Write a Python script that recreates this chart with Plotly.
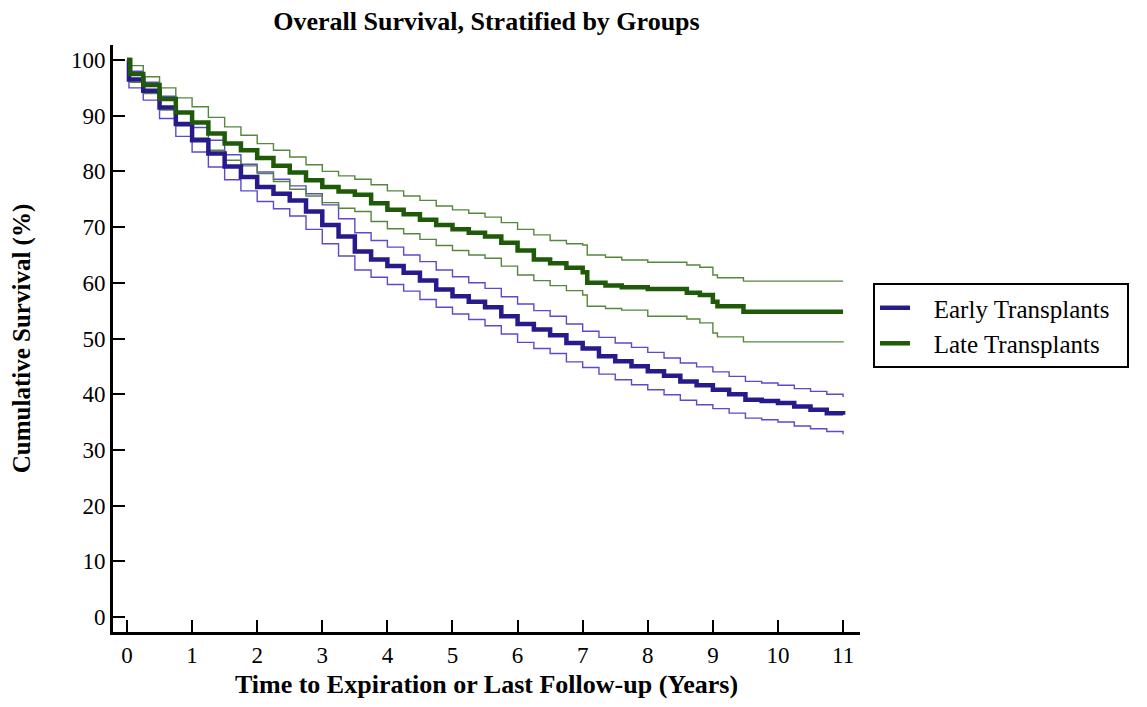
import plotly.graph_objects as go

# ---- Data ----
early_t = [0, 0.03, 0.25, 0.5, 0.75, 1.0, 1.25, 1.5, 1.75, 2.0, 2.25, 2.5, 2.75, 3.0, 3.25, 3.5, 3.75,
           4.0, 4.25, 4.5, 4.75, 5.0, 5.25, 5.5, 5.75, 6.0, 6.25, 6.5, 6.75, 7.0, 7.25, 7.5, 7.75,
           8.0, 8.25, 8.5, 8.75, 9.0, 9.25, 9.5, 9.75, 10.0, 10.25, 10.5, 10.75, 11.0]
early_mid = [100, 96.5, 94.5, 91.5, 88.5, 85.6, 83.2, 80.9, 79.0, 77.2, 76.0, 74.8, 72.8, 70.4, 68.3, 65.6, 64.2,
             63.0, 61.8, 60.4, 58.8, 57.6, 56.6, 55.6, 54.0, 52.6, 51.6, 50.6, 49.2, 48.2, 46.8, 45.9, 45.0,
             44.1, 43.3, 42.3, 41.6, 40.8, 40.0, 39.0, 38.8, 38.4, 37.8, 37.2, 36.6, 36.3]
early_up = [100, 98.0, 96.0, 93.5, 90.5, 87.9, 85.6, 83.0, 81.3, 79.9, 78.6, 77.4, 76.0, 74.0, 71.5, 69.0, 67.6,
            66.4, 65.0, 63.8, 62.3, 61.1, 60.0, 59.0, 57.5, 56.2, 55.0, 54.0, 52.6, 51.3, 50.2, 49.2, 48.4,
            47.5, 46.5, 45.6, 44.9, 44.0, 43.2, 42.3, 42.0, 41.6, 41.0, 40.5, 40.0, 39.5]
early_lo = [100, 95.0, 92.8, 89.5, 86.3, 83.5, 80.8, 78.5, 76.5, 74.6, 73.3, 72.0, 69.6, 67.0, 64.8, 62.3, 61.0,
            59.7, 58.5, 57.0, 55.6, 54.4, 53.4, 52.3, 50.8, 49.3, 48.2, 47.3, 45.8, 44.8, 43.6, 42.6, 41.7,
            40.8, 39.9, 38.9, 38.1, 37.4, 36.6, 35.7, 35.4, 35.0, 34.3, 33.8, 33.3, 32.8]

late_t = [0, 0.05, 0.25, 0.5, 0.75, 1.0, 1.25, 1.5, 1.75, 2.0, 2.25, 2.5, 2.75, 3.0, 3.25, 3.5, 3.75,
          4.0, 4.25, 4.5, 4.75, 5.0, 5.25, 5.5, 5.75, 6.0, 6.25, 6.5, 6.75, 7.0, 7.07, 7.35, 7.6,
          8.0, 8.6, 8.8, 9.0, 9.07, 9.47, 11.0]
late_mid = [100, 97.5, 95.5, 93.0, 90.6, 88.8, 86.8, 85.0, 83.8, 82.4, 81.0, 79.8, 78.4, 77.2, 76.4, 75.8, 74.3,
            73.1, 72.3, 71.3, 70.4, 69.6, 69.0, 68.3, 67.2, 65.8, 64.2, 63.5, 62.7, 61.9, 60.0, 59.5, 59.2,
            58.9, 58.2, 57.8, 56.6, 55.8, 54.8, 54.8]
late_up = [100, 99.0, 97.0, 95.0, 93.2, 91.6, 89.7, 88.0, 86.5, 85.0, 83.8, 82.6, 81.2, 80.0, 79.2, 78.6, 77.6,
           76.5, 75.6, 74.8, 73.8, 73.1, 72.5, 71.8, 70.8, 69.6, 68.6, 67.6, 67.0, 66.8, 65.0, 64.6, 64.1,
           63.7, 63.2, 62.8, 61.4, 60.9, 60.3, 60.3]
late_lo = [100, 96.0, 94.0, 91.0, 88.2, 86.0, 83.8, 82.0, 81.0, 79.6, 78.2, 76.8, 75.6, 74.4, 73.4, 72.8, 71.0,
           69.7, 68.8, 67.8, 66.7, 65.8, 65.0, 64.4, 63.0, 61.4, 60.4, 59.5, 58.6, 57.8, 55.8, 55.4, 55.1,
           54.0, 53.5, 52.8, 51.0, 50.3, 49.4, 49.3]

x_ticks = list(range(0, 12))
y_ticks = list(range(0, 101, 10))

BLUE = "rgb(38,26,140)"
BLUE_CI = "rgb(90,75,205)"
GREEN = "rgb(30,90,8)"
GREEN_CI = "rgb(85,135,60)"

FONT = "Liberation Serif"
NB = "\u00a0"

fig = go.Figure()

def add(t, y, color, width, name=None, legend=False):
    fig.add_trace(go.Scatter(x=t, y=y, mode="lines", line=dict(color=color, width=width, shape="hv"),
                             name=name, showlegend=legend))

add(early_t, early_up, BLUE_CI, 1.4)
add(early_t, early_lo, BLUE_CI, 1.4)
add(late_t, late_up, GREEN_CI, 1.4)
add(late_t, late_lo, GREEN_CI, 1.4)
add(early_t, early_mid, BLUE, 4.5, NB * 3 + "Early Transplants" + NB * 2, True)
add(late_t, late_mid, GREEN, 4.5, NB * 3 + "Late Transplants", True)

# page renders with an 8px body offset; figure coordinates are screen - 8
W, H = 1131, 691
L, R, T, B = 105, 1131 - 852, 37, 691 - 624

fig.update_layout(
    width=W, height=H,
    margin=dict(l=L, r=R, t=T, b=B, autoexpand=False),
    paper_bgcolor="white", plot_bgcolor="white",
    font=dict(family=FONT, size=23, color="black"),
    showlegend=True,
    title=dict(text="<b>Overall Survival, Stratified by Groups</b>", x=(105 + 852) / 2 / W, xanchor="center",
               y=1 - 13 / H, yanchor="middle", font=dict(family=FONT, size=26, color="black")),
    xaxis=dict(range=[-0.215, 11.26], tickvals=x_ticks, ticks="inside", ticklen=12, tickwidth=2,
               tickcolor="black", showline=True, linewidth=3, linecolor="black", showgrid=False,
               zeroline=False, tickfont=dict(family=FONT, size=23), automargin=False,
               title=dict(text="<b>Time to Expiration or Last Follow-up (Years)</b>",
                          font=dict(family=FONT, size=26), standoff=15)),
    yaxis=dict(range=[-2.7, 102.7], tickvals=y_ticks, ticks="inside", ticklen=12, tickwidth=2,
               tickcolor="black", showline=True, linewidth=3, linecolor="black", showgrid=False,
               zeroline=False, tickfont=dict(family=FONT, size=23), automargin=False,
               title=dict(text="<b>Cumulative Survival (%)</b>", font=dict(family=FONT, size=25), standoff=42)),
    legend=dict(x=1.0174, y=0.5945, xanchor="left", yanchor="top", bordercolor="black", borderwidth=2,
                bgcolor="white", font=dict(family=FONT, size=25), tracegroupgap=0),
)

fig.write_html("out.html")
